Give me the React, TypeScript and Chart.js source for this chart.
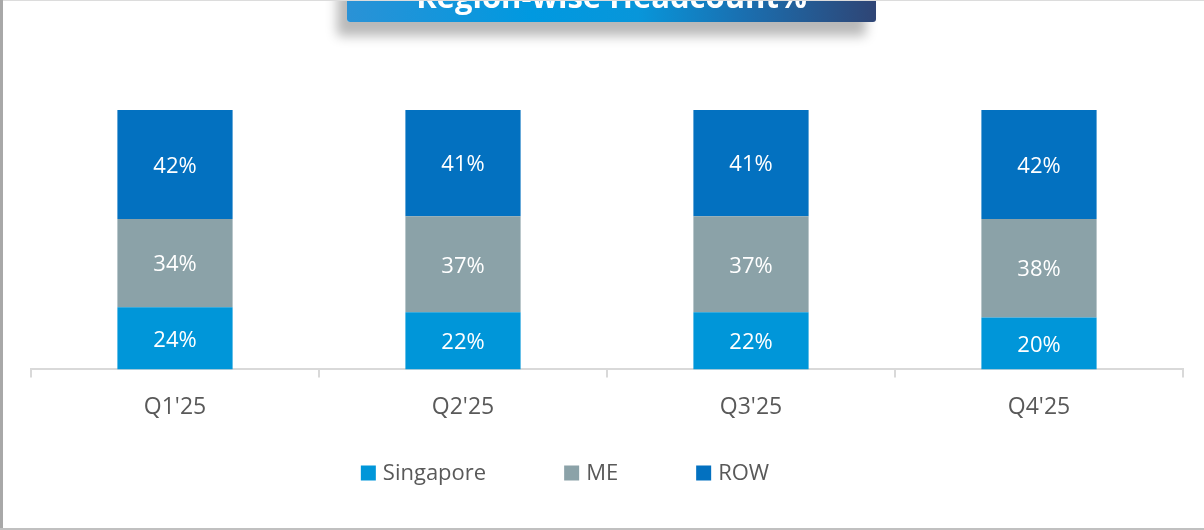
import React, { useEffect, useRef } from "react";
import { Chart, registerables } from "chart.js";

Chart.register(...registerables);

const categories = ["Q1'25", "Q2'25", "Q3'25", "Q4'25"];
const seriesNames = ["Singapore", "ME", "ROW"];
const singapore = [24, 22, 22, 20];
const me = [34, 37, 37, 38];
const row = [42, 41, 41, 42];
const seriesColors = ["#0096D9", "#8BA2A8", "#0371C0"];
const titleText = "Region-wise Headcount%";

const FONT = "'Open Sans', 'Noto Sans', sans-serif";

const dataLabelPlugin = {
  id: "dataLabels",
  afterDatasetsDraw(chart: any) {
    const ctx = chart.ctx;
    ctx.save();
    ctx.fillStyle = "#ffffff";
    ctx.font = `22px ${FONT}`;
    ctx.textAlign = "center";
    ctx.textBaseline = "middle";
    chart.data.datasets.forEach((ds: any, di: number) => {
      const meta = chart.getDatasetMeta(di);
      meta.data.forEach((bar: any, i: number) => {
        const y = (bar.y + bar.base) / 2;
        ctx.fillText(`${ds.data[i]}%`, bar.x, y + 2);
      });
    });
    ctx.restore();
  },
};

const legendPlugin = {
  id: "customLegend",
  afterDraw(chart: any) {
    const opts = chart.options.plugins.customLegend;
    const ctx = chart.ctx;
    ctx.save();
    ctx.font = `22px ${FONT}`;
    ctx.textBaseline = "middle";
    ctx.textAlign = "left";
    const items = chart.data.datasets.map((ds: any) => ({
      label: ds.label,
      color: ds.backgroundColor,
      w: opts.box + opts.gap + ctx.measureText(ds.label).width,
    }));
    const total =
      items.reduce((s: number, it: any) => s + it.w, 0) +
      opts.padding * (items.length - 1);
    let x = opts.centerX - total / 2;
    const y = opts.centerY;
    items.forEach((it: any) => {
      ctx.fillStyle = it.color;
      ctx.fillRect(x, y - opts.box / 2, opts.box, opts.box);
      ctx.fillStyle = "#595959";
      ctx.fillText(it.label, x + opts.box + opts.gap, y + 1);
      x += it.w + opts.padding;
    });
    ctx.restore();
  },
};

export default function App() {
  const canvasRef = useRef<HTMLCanvasElement | null>(null);

  useEffect(() => {
    document.body.style.margin = "0";
    const canvas = canvasRef.current;
    if (!canvas) return;
    const datasetsValues = [singapore, me, row];
    const chart = new Chart(canvas, {
      type: "bar",
      data: {
        labels: categories,
        datasets: seriesNames.map((name, i) => ({
          label: name,
          data: datasetsValues[i],
          backgroundColor: seriesColors[i],
          borderWidth: 0,
          barPercentage: 0.4,
          categoryPercentage: 1,
        })),
      },
      options: {
        responsive: false,
        animation: false,
        layout: { padding: { left: 31, right: 21, top: 110, bottom: 93 } },
        scales: {
          x: {
            stacked: true,
            grid: {
              offset: true,
              drawOnChartArea: false,
              drawTicks: true,
              tickLength: 8,
              color: "#d9d9d9",
              lineWidth: 2,
            },
            border: { display: true, color: "#d9d9d9", width: 2 },
            ticks: {
              color: "#595959",
              font: { family: FONT, size: 23 },
              padding: 16,
            },
          },
          y: {
            stacked: true,
            display: false,
            min: 0,
            max: 100,
          },
        },
        plugins: {
          legend: { display: false },
          tooltip: { enabled: false },
          customLegend: { centerX: 565, centerY: 473, box: 15, gap: 7, padding: 78 },
        } as any,
      },
      plugins: [dataLabelPlugin, legendPlugin],
    });
    return () => chart.destroy();
  }, []);

  return (
    <div
      style={{
        position: "relative",
        width: 1204,
        height: 530,
        overflow: "hidden",
        background: "#ffffff",
      }}
    >
      <canvas
        ref={canvasRef}
        width={1204}
        height={530}
        style={{ position: "absolute", left: 0, top: 0, width: 1204, height: 530 }}
      />
      <div
        style={{
          position: "absolute",
          left: 347,
          top: -24,
          width: 529,
          height: 46,
          borderRadius: 3,
          background:
            "linear-gradient(90deg, #2a92d6 0%, #0099e0 35%, #0896da 55%, #1a6fb0 75%, #2f4575 100%)",
          boxShadow: "-10px 14px 12px rgba(0,0,0,0.28)",
          color: "#ffffff",
          fontFamily: FONT,
          fontWeight: 700,
          fontSize: 31,
          lineHeight: "31px",
          textAlign: "center",
        }}
      >
        <div style={{ position: "absolute", left: 0, right: 0, top: 5 }}>{titleText}</div>
      </div>
      <div style={{ position: "absolute", left: 0, top: 0, width: 1204, height: 1, background: "#dcdcdc" }} />
      <div style={{ position: "absolute", left: 0, top: 0, width: 3, height: 530, background: "#a8a8a8" }} />
      <div style={{ position: "absolute", left: 0, top: 528, width: 1204, height: 2, background: "#c0c0c0" }} />
    </div>
  );
}
